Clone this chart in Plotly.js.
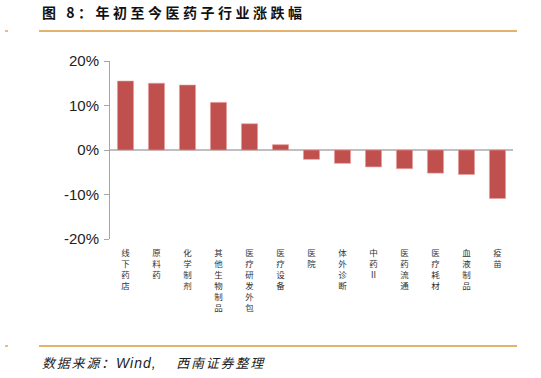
<!DOCTYPE html>
<html>
<head>
<meta charset="utf-8">
<script src="https://cdn.plot.ly/plotly-3.0.1.min.js"></script>
<style>
html,body{margin:0;padding:0;background:#fff;}
#chart{width:541px;height:378px;}
.ttl text{letter-spacing:3.5px;}
.src text{letter-spacing:1.8px;}
</style>
</head>
<body>
<div id="chart"></div>
<script>
var categories = ['线下药店','原料药','化学制剂','其他生物制品','医疗研发外包','医疗设备','医院','体外诊断','中药Ⅱ','医药流通','医疗耗材','血液制品','疫苗'];
var changePct = [15.5, 15.0, 14.6, 10.7, 5.9, 1.2, -2.1, -3.0, -3.8, -4.2, -5.2, -5.5, -10.9];
var yTickVals = [-20, -10, 0, 10, 20];
var yTickText = ['-20%', '-10%', '0%', '10%', '20%'];
var titleText = '图 8：年初至今医药子行业涨跌幅';
var sourceParts = ['数据来源：', 'Wind,', '\u00A0\u3000西南证券整理'];

var stacked = categories.map(function(c){ return Array.from(c).join('<br>'); });

var W = 541, H = 378, ML = 110, MR = 28, MT = 61, MB = 139;
var pw = W - ML - MR, ph = H - MT - MB;
function px(x){ return (x - ML) / pw; }
function py(y){ return (H - MB - y) / ph; }
var orange = '#DA9A3E';

var trace = {
  type: 'bar',
  x: categories,
  y: changePct,
  marker: {color: '#C0504D', line: {color: '#E8A0A0', width: 0.6}},
  hoverinfo: 'x+y'
};

var sourceHtml = '<i>' + sourceParts[0] +
  '<span style="font-family:Liberation Sans, Arial, sans-serif;font-size:14px;letter-spacing:1px">' + sourceParts[1] + '</span>' +
  sourceParts[2] + '</i>';

var layout = {
  width: W, height: H,
  margin: {l: ML, r: MR, t: MT, b: MB, pad: 0},
  paper_bgcolor: '#fff', plot_bgcolor: '#fff',
  showlegend: false,
  bargap: 0.48,
  font: {family: 'Liberation Sans, Arial, sans-serif', color: '#222'},
  xaxis: {
    type: 'category',
    tickvals: categories,
    ticktext: stacked,
    tickangle: 0,
    showline: false, showgrid: false, zeroline: false,
    ticks: '',
    tickfont: {family: 'Noto Sans CJK SC', size: 8.5, color: '#333'},
    ticklabelstandoff: 7
  },
  yaxis: {
    range: [-20, 20],
    tickvals: yTickVals,
    ticktext: yTickText,
    showgrid: false,
    showline: true, linecolor: '#A6A6A6', linewidth: 1,
    ticks: 'outside', ticklen: 5, tickcolor: '#A6A6A6',
    zeroline: true, zerolinecolor: '#BFBFBF', zerolinewidth: 1.5,
    tickfont: {family: 'Liberation Sans, Arial, sans-serif', size: 15, color: '#222'},
    ticklabelstandoff: 2
  },
  shapes: [
    {type: 'line', xref: 'paper', yref: 'paper', x0: px(39), x1: px(517), y0: py(31), y1: py(31), line: {color: orange, width: 1.3}},
    {type: 'line', xref: 'paper', yref: 'paper', x0: px(5), x1: px(8), y0: py(31), y1: py(31), line: {color: orange, width: 1.3}},
    {type: 'line', xref: 'paper', yref: 'paper', x0: px(39), x1: px(517), y0: py(346), y1: py(346), line: {color: orange, width: 1.3}},
    {type: 'line', xref: 'paper', yref: 'paper', x0: px(5), x1: px(8), y0: py(346), y1: py(346), line: {color: orange, width: 1.3}}
  ],
  annotations: [
    {text: '<b>' + titleText + '</b>', xref: 'paper', yref: 'paper', x: px(40), y: py(12), xanchor: 'left', yanchor: 'middle', align: 'left', showarrow: false,
     font: {family: 'Noto Sans CJK SC', size: 14, color: '#111'}},
    {text: sourceHtml, xref: 'paper', yref: 'paper', x: px(40), y: py(362), xanchor: 'left', yanchor: 'middle', align: 'left', showarrow: false,
     font: {family: 'Noto Sans CJK SC', size: 13, color: '#222'}}
  ]
};

Plotly.newPlot('chart', [trace], layout, {displayModeBar: false, staticPlot: true}).then(function(){
  var anns = document.querySelectorAll('.annotation');
  if (anns.length > 0) anns[0].classList.add('ttl');
  if (anns.length > 1) anns[1].classList.add('src');
});
</script>
</body>
</html>
